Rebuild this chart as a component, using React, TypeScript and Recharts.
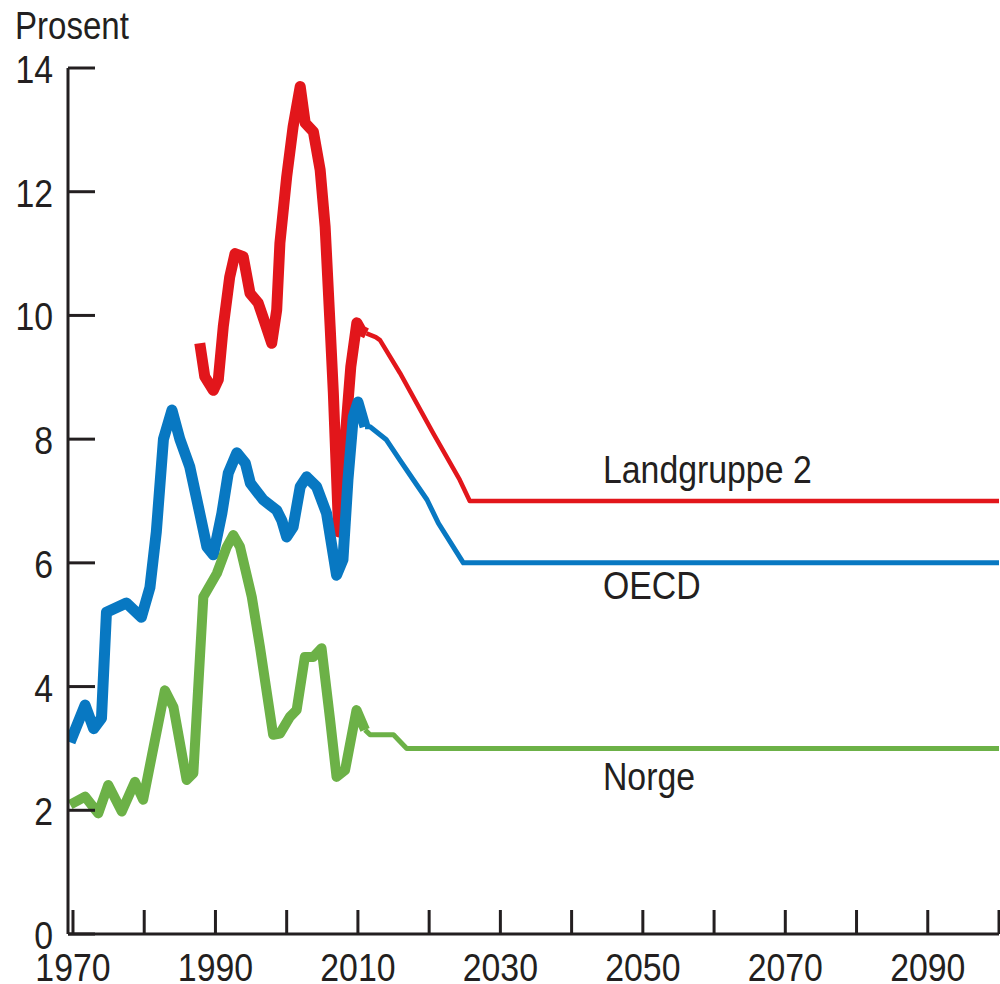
import React from 'react';
import { LineChart, Line, XAxis, YAxis, ReferenceDot } from 'recharts';

type Pt = [number, number];

// OECD (blue)
const oecdHistory: Pt[] = [
  [1969.6, 3.1], [1971.7, 3.7], [1972.9, 3.32], [1974.0, 3.49], [1974.7, 5.2],
  [1977.5, 5.35], [1979.6, 5.12], [1980.8, 5.6], [1981.7, 6.5], [1982.7, 8.0],
  [1983.9, 8.47], [1985.0, 8.0], [1986.4, 7.55], [1987.8, 6.8], [1988.8, 6.26],
  [1989.7, 6.13], [1990.9, 6.8], [1991.8, 7.45], [1993.0, 7.78], [1994.2, 7.61],
  [1994.9, 7.29], [1996.7, 7.02], [1998.6, 6.85], [1999.3, 6.69], [2000.0, 6.42],
  [2000.9, 6.58], [2001.9, 7.23], [2002.8, 7.39], [2004.2, 7.23], [2005.6, 6.8],
  [2007.0, 5.8], [2007.9, 6.05], [2008.6, 7.34], [2009.35, 8.36], [2010.0, 8.6],
  [2011.0, 8.2],
];
const oecdProjection: Pt[] = [
  [2011.0, 8.2], [2011.7, 8.2], [2014.0, 7.99], [2015.9, 7.66], [2017.8, 7.34],
  [2019.7, 7.02], [2021.3, 6.64], [2024.8, 6.0], [2100, 6.0],
];

// Landgruppe 2 (red)
const landgruppeHistory: Pt[] = [
  [1987.8, 9.55], [1988.5, 9.01], [1989.7, 8.79], [1990.4, 8.96], [1991.1, 9.82],
  [1992.0, 10.62], [1992.75, 11.0], [1993.9, 10.95], [1994.85, 10.36], [1996.0, 10.2],
  [1996.95, 9.88], [1997.9, 9.55], [1998.6, 10.09], [1999.05, 11.17], [2000.0, 12.24],
  [2000.9, 13.05], [2001.9, 13.7], [2002.6, 13.11], [2003.75, 12.97], [2004.7, 12.35],
  [2005.4, 11.43], [2006.1, 9.82], [2006.55, 8.75], [2007.3, 6.5], [2008.2, 8.0],
  [2009.0, 9.17], [2009.85, 9.88], [2010.5, 9.75], [2011.2, 9.71],
];
const landgruppeProjection: Pt[] = [
  [2011.2, 9.71], [2012.5, 9.65], [2013.1, 9.6], [2015.9, 9.07], [2020.6, 8.09],
  [2024.3, 7.34], [2025.7, 7.0], [2100, 7.0],
];

// Norge (green)
const norgeHistory: Pt[] = [
  [1969.6, 2.09], [1971.7, 2.22], [1973.55, 1.95], [1974.95, 2.41], [1976.85, 1.98],
  [1978.7, 2.46], [1979.85, 2.17], [1981.05, 2.87], [1982.9, 3.94], [1984.1, 3.67],
  [1985.95, 2.49], [1986.9, 2.6], [1988.3, 5.45], [1990.2, 5.83], [1991.6, 6.26],
  [1992.5, 6.45], [1993.45, 6.26], [1995.1, 5.45], [1996.25, 4.64], [1998.1, 3.22],
  [1999.05, 3.24], [2000.45, 3.51], [2001.4, 3.62], [2002.55, 4.48], [2003.75, 4.48],
  [2004.9, 4.62], [2006.1, 3.46], [2007.0, 2.54], [2008.2, 2.65], [2009.8, 3.62],
  [2011.0, 3.3],
];
const norgeProjection: Pt[] = [
  [2011.0, 3.3], [2011.7, 3.22], [2015.0, 3.22], [2016.85, 3.0], [2100, 3.0],
];

const xTicks = [1970, 1980, 1990, 2000, 2010, 2020, 2030, 2040, 2050, 2060, 2070, 2080, 2090, 2100];
const xTickLabels = ['1970', '1990', '2010', '2030', '2050', '2070', '2090'];
const yTicks = [0, 2, 4, 6, 8, 10, 12, 14];

const seriesNames = ['Landgruppe 2', 'OECD', 'Norge'];
const seriesLabelYear = 2044.4;
const seriesLabelValues = [7.29, 5.42, 2.33];
const unitLabel = 'Prosent';

const RED = '#e2161b';
const BLUE = '#0878c2';
const GREEN = '#6cb147';
const INK = '#231f20';
const FONT = '"Liberation Sans", Arial, sans-serif';
const FS = 38;
const SX = 0.89;

const rows = (pts: Pt[]) => pts.map(([year, value]) => ({ year, value }));

const XTick = (props: any) => {
  const { x, y, payload } = props;
  const txt = String(payload.value);
  const show = xTickLabels.includes(txt);
  return (
    <g>
      <line x1={x} y1={y} x2={x} y2={y - 24} stroke={INK} strokeWidth={3} />
      {show && (
        <text
          transform={`translate(${x},${y + 47}) scale(${SX},1)`}
          textAnchor="middle"
          fontFamily={FONT}
          fontSize={FS}
          fill={INK}
        >
          {txt}
        </text>
      )}
    </g>
  );
};

const YTick = (props: any) => {
  const { x, y, payload } = props;
  return (
    <g>
      <line x1={x} y1={y} x2={x + 27} y2={y} stroke={INK} strokeWidth={3} />
      <text
        transform={`translate(${x - 15},${y + 15}) scale(${SX},1)`}
        textAnchor="end"
        fontFamily={FONT}
        fontSize={FS}
        fill={INK}
      >
        {String(payload.value)}
      </text>
    </g>
  );
};

const unitLabelRender = (props: any) => {
  const vb = props.viewBox || { x: 0, y: 68 };
  return (
    <text
      transform={`translate(${vb.x + 15},${vb.y - 29}) scale(0.87,1)`}
      fontFamily={FONT}
      fontSize={FS}
      fill={INK}
    >
      {unitLabel}
    </text>
  );
};

const makeSeriesLabel = (name: string) => (props: any) => {
  const vb = props.viewBox || { x: 0, y: 0, width: 0, height: 0 };
  const cx = vb.x + (vb.width || 0) / 2;
  const cy = vb.y + (vb.height || 0) / 2;
  return (
    <text
      transform={`translate(${cx},${cy}) scale(${SX},1)`}
      fontFamily={FONT}
      fontSize={FS}
      fill={INK}
    >
      {name}
    </text>
  );
};

const lineCommon = {
  dataKey: 'value',
  type: 'linear' as const,
  dot: false,
  activeDot: false,
  isAnimationActive: false,
  strokeLinejoin: 'round' as const,
  legendType: 'none' as const,
};

export default function App() {
  return (
    <div style={{ position: 'absolute', left: 0, top: 0, width: 1000, height: 984, background: '#fff' }}>
      <LineChart width={1000} height={984} margin={{ top: 68, right: 1, bottom: 0, left: 0 }}>
        <XAxis
          type="number"
          dataKey="year"
          domain={[1969.3, 2100]}
          ticks={xTicks}
          interval={0}
          height={50}
          tickSize={0}
          tickMargin={0}
          tickLine={false}
          axisLine={{ stroke: INK, strokeWidth: 3 }}
          tick={<XTick />}
          allowDataOverflow
        />
        <YAxis
          type="number"
          domain={[0, 14]}
          ticks={yTicks}
          interval={0}
          width={68}
          tickSize={0}
          tickMargin={0}
          tickLine={false}
          axisLine={{ stroke: INK, strokeWidth: 3 }}
          tick={<YTick />}
          label={unitLabelRender}
          allowDataOverflow
        />
        <Line {...lineCommon} data={rows(landgruppeHistory)} stroke={RED} strokeWidth={11} />
        <Line {...lineCommon} data={rows(landgruppeProjection)} stroke={RED} strokeWidth={4.5} />
        <Line {...lineCommon} data={rows(oecdHistory)} stroke={BLUE} strokeWidth={11} />
        <Line {...lineCommon} data={rows(oecdProjection)} stroke={BLUE} strokeWidth={5} />
        <Line {...lineCommon} data={rows(norgeHistory)} stroke={GREEN} strokeWidth={10} />
        <Line {...lineCommon} data={rows(norgeProjection)} stroke={GREEN} strokeWidth={5} />
        {seriesNames.map((name, i) => (
          <ReferenceDot
            key={name}
            x={seriesLabelYear}
            y={seriesLabelValues[i]}
            r={1}
            fill="none"
            stroke="none"
            label={makeSeriesLabel(name)}
          />
        ))}
      </LineChart>
    </div>
  );
}
